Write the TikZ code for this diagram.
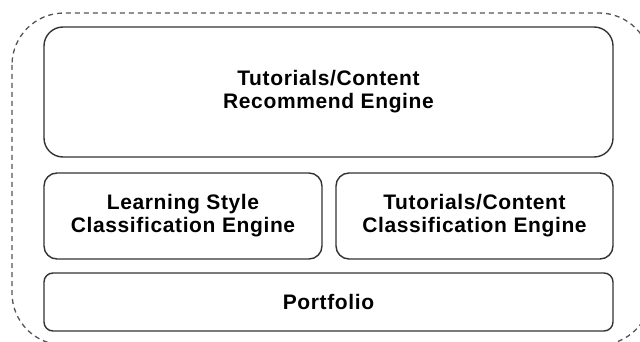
\documentclass[tikz,border=0pt]{standalone}
\usepackage{fontspec}
\setmainfont{Liberation Sans}
\definecolor{boxline}{HTML}{333333}
\definecolor{dashline}{HTML}{555555}
\begin{document}
\begin{tikzpicture}[x=1pt,y=-1pt]
\tikzset{engine/.style={draw=boxline,line width=1.4pt,inner sep=0pt,align=center,
  font=\fontsize{21}{23}\selectfont\bfseries\addfontfeatures{LetterSpace=3}}}
\useasboundingbox (0,0) rectangle (640,342);
\clip (0,0) rectangle (640,342);
\draw[dashline,line width=1.3pt,dash pattern=on 5pt off 4pt,rounded corners=52pt] (12,13) rectangle (651,345);
\node[engine,rounded corners=19pt,minimum width=569pt,minimum height=130pt] (recommend) at (328.5,92) {Tutorials/Content\\Recommend Engine};
\node[engine,rounded corners=13pt,minimum width=278pt,minimum height=86pt] (lsce) at (183,216) {Learning Style\\Classification Engine};
\node[engine,rounded corners=13pt,minimum width=277pt,minimum height=86pt] (tcce) at (474.5,216) {Tutorials/Content\\Classification Engine};
\node[engine,rounded corners=9pt,minimum width=569pt,minimum height=58pt] (portfolio) at (328.5,302) {Portfolio};
\end{tikzpicture}
\end{document}
